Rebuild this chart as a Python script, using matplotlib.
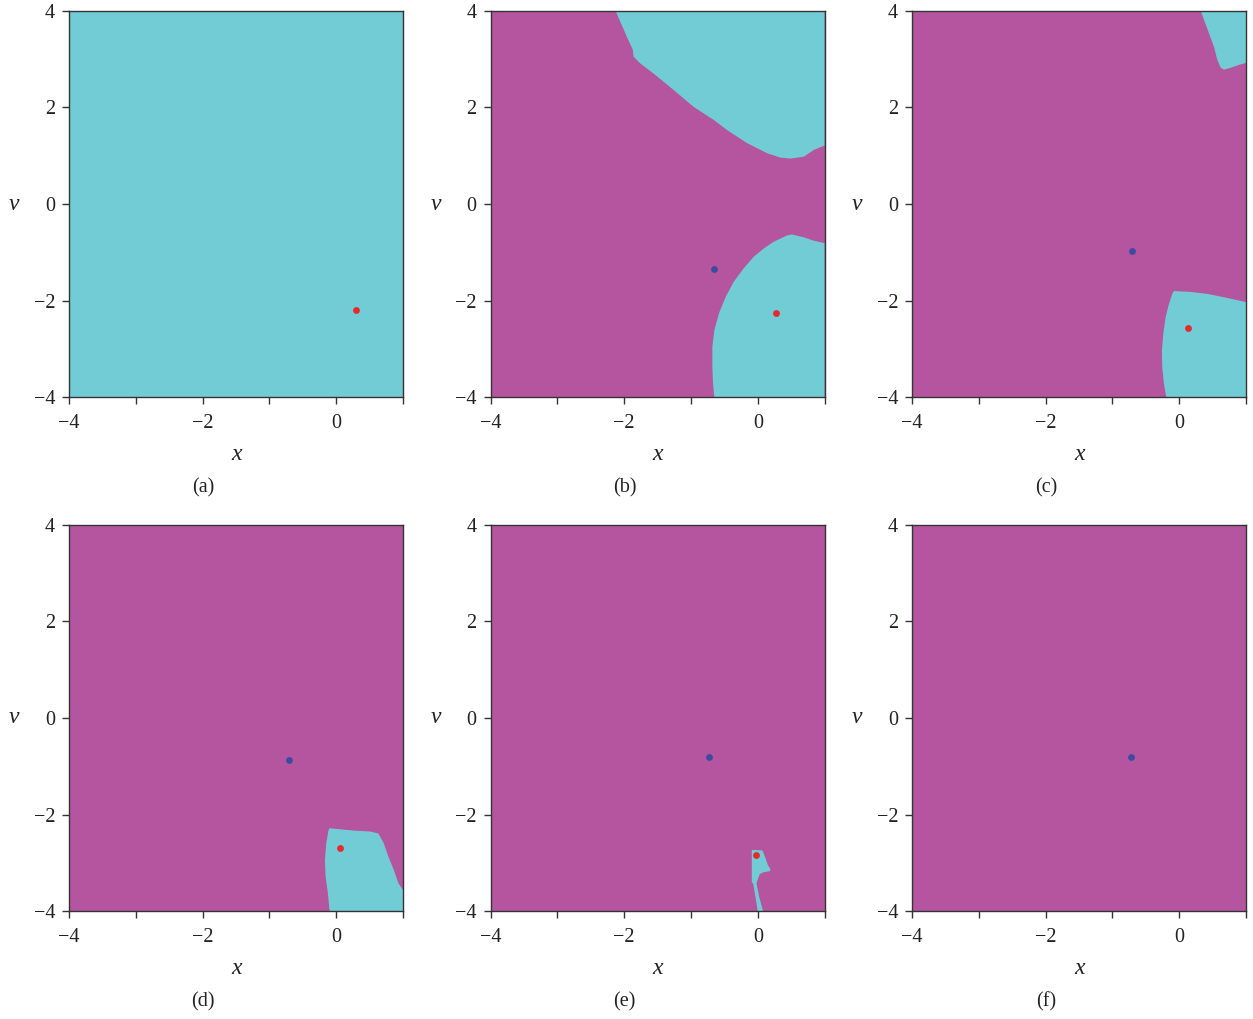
import matplotlib
matplotlib.use("Agg")
import matplotlib.pyplot as plt

plt.rcParams["font.family"] = ["Liberation Serif", "DejaVu Serif"]

CYAN = "#72ccd6"
MAGENTA = "#b5559f"
RED = "#e8282b"
BLUE = "#3b4ca0"

X_RANGE = (-4, 1)
Y_RANGE = (-4, 4)
x_ticks = [-4, -3, -2, -1, 0, 1]
x_tick_labels = ["\u22124", "", "\u22122", "", "0", ""]
y_ticks = [-4, -2, 0, 2, 4]
y_tick_labels = ["\u22124", "\u22122", "0", "2", "4"]
panel_labels = ["(a)", "(b)", "(c)", "(d)", "(e)", "(f)"]

# background basin colour of every panel
background = [CYAN, MAGENTA, MAGENTA, MAGENTA, MAGENTA, MAGENTA]

# attractor positions (x, v)
red_x = [0.30, 0.27, 0.125, 0.05, -0.03, None]
red_y = [-2.20, -2.26, -2.56, -2.70, -2.84, None]
blue_x = [None, -0.66, -0.715, -0.71, -0.73, -0.73]
blue_y = [None, -1.34, -0.97, -0.87, -0.81, -0.80]

# cyan basin boundaries
b_upper_x = [-2.13, -2.07, -1.96, -1.87, -1.86, -1.76, -1.56, -1.26, -0.96, -0.66,
             -0.46, -0.16, 0.14, 0.34, 0.49, 0.69, 0.84, 1.0, 1.0]
b_upper_y = [4.0, 3.81, 3.46, 3.19, 3.05, 2.91, 2.70, 2.36, 2.01, 1.74,
             1.53, 1.26, 1.05, 0.96, 0.94, 0.98, 1.12, 1.21, 4.0]
b_lower_x = [1.0, 0.84, 0.69, 0.51, 0.44, 0.24, 0.09, -0.06, -0.21, -0.36, -0.48,
             -0.58, -0.65, -0.68, -0.68, -0.67, -0.65, 1.0]
b_lower_y = [-0.81, -0.76, -0.69, -0.63, -0.65, -0.78, -0.92, -1.09, -1.33, -1.61, -1.92,
             -2.26, -2.61, -2.95, -3.37, -3.71, -4.0, -4.0]
c_upper_x = [0.32, 0.37, 0.445, 0.52, 0.57, 0.62, 0.67, 0.77, 0.895, 1.0, 1.0]
c_upper_y = [4.0, 3.81, 3.53, 3.25, 2.98, 2.82, 2.78, 2.82, 2.88, 2.92, 4.0]
c_lower_x = [1.0, 0.67, 0.42, 0.17, -0.08, -0.105, -0.155, -0.205, -0.24, -0.26,
             -0.255, -0.23, -0.195, 1.0]
c_lower_y = [-2.03, -1.93, -1.86, -1.82, -1.80, -1.86, -2.07, -2.34, -2.69, -3.03,
             -3.38, -3.72, -4.0, -4.0]
d_lower_x = [-0.10, -0.04, 0.26, 0.51, 0.63, 0.71, 0.78, 0.86, 0.93, 1.0, 1.0,
             -0.10, -0.125, -0.16, -0.17, -0.15, -0.115]
d_lower_y = [-2.28, -2.29, -2.33, -2.35, -2.39, -2.59, -2.87, -3.14, -3.42, -3.56, -4.0,
             -4.0, -3.63, -3.28, -2.94, -2.59, -2.32]
e_lower_x = [-0.09, 0.07, 0.115, 0.15, 0.19, 0.18, 0.09, 0.03, 0.01, -0.02, 0.02,
             0.08, 0.0, -0.035, -0.07, -0.09]
e_lower_y = [-2.73, -2.74, -2.90, -3.04, -3.13, -3.17, -3.19, -3.23, -3.30, -3.42, -3.70,
             -4.0, -4.0, -3.70, -3.42, -3.40]

cyan_regions = [
    [],
    [(b_upper_x, b_upper_y), (b_lower_x, b_lower_y)],
    [(c_upper_x, c_upper_y), (c_lower_x, c_lower_y)],
    [(d_lower_x, d_lower_y)],
    [(e_lower_x, e_lower_y)],
    [],
]

fig = plt.figure(figsize=(12.53, 10.19), dpi=100)
lefts = [0.0551, 0.3915, 0.7279]
bottoms = [0.6101, 0.1057]
width, height = 0.2666, 0.3794

for i in range(6):
    row, col = divmod(i, 3)
    ax = fig.add_axes([lefts[col], bottoms[row], width, height])
    x0, x1 = X_RANGE
    y0, y1 = Y_RANGE
    ax.fill([x0, x1, x1, x0], [y0, y0, y1, y1], color=background[i], lw=0, zorder=1)
    for px, py in cyan_regions[i]:
        ax.fill(px, py, color=CYAN, lw=0, zorder=2)
    if blue_x[i] is not None:
        ax.scatter([blue_x[i]], [blue_y[i]], s=24, color=BLUE, lw=0, zorder=4)
    if red_x[i] is not None:
        ax.scatter([red_x[i]], [red_y[i]], s=24, color=RED, lw=0, zorder=4)
    ax.set_xlim(*X_RANGE)
    ax.set_ylim(*Y_RANGE)
    ax.set_xticks(x_ticks)
    ax.set_xticklabels(x_tick_labels)
    ax.set_yticks(y_ticks)
    ax.set_yticklabels(y_tick_labels)
    ax.tick_params(direction="out", length=5, width=1, color="#333333",
                   labelsize=14.5, labelcolor="#222222", pad=5)
    ax.tick_params(axis="x", pad=7)
    for sp in ax.spines.values():
        sp.set_color("#333333")
        sp.set_linewidth(1.0)
    ax.text(0.5, -0.147, "x", transform=ax.transAxes, ha="center", va="center",
            fontsize=17, style="italic", color="#222222")
    ax.text(-0.165, 0.5, "\u03bd", transform=ax.transAxes, ha="center", va="center",
            fontsize=17, style="italic", color="#222222")
    ax.text(0.401, -0.233, panel_labels[i], transform=ax.transAxes, ha="center",
            va="center", fontsize=14.5, color="#222222")

fig.savefig("out.png", dpi=100)
